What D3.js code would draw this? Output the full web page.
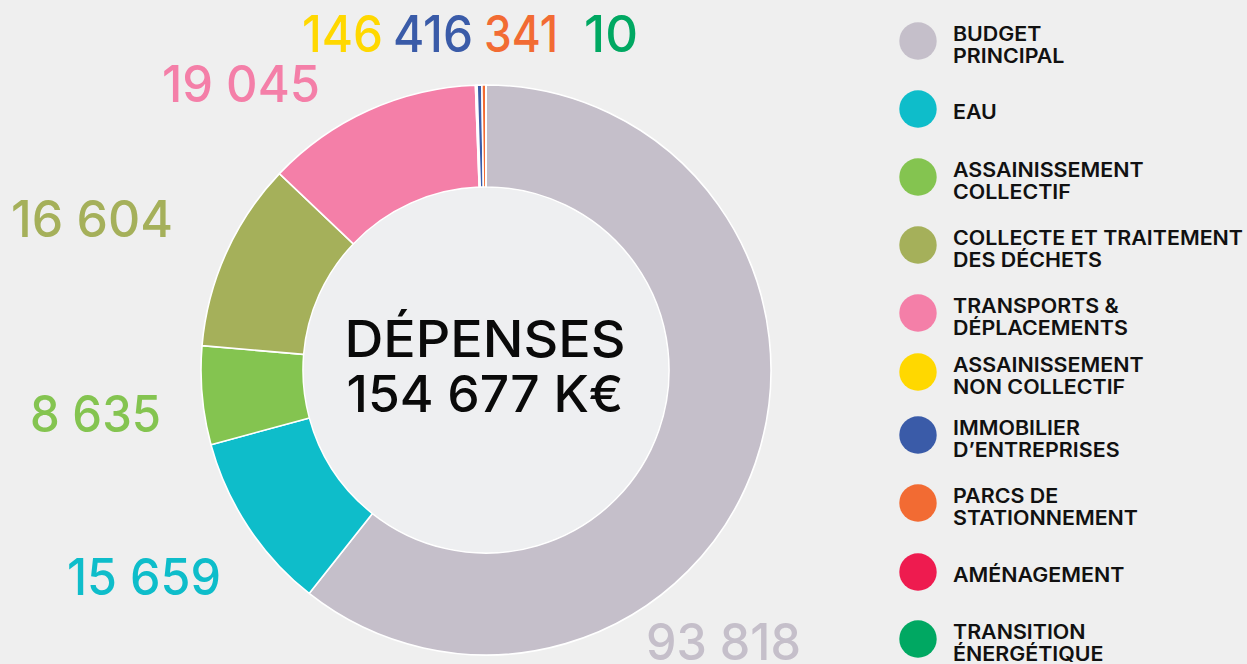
<!DOCTYPE html>
<html lang="fr">
<head>
<meta charset="utf-8">
<script src="https://cdn.jsdelivr.net/npm/d3@7"></script>
<style>
  html, body { margin: 0; padding: 0; background: #efefef; }
  svg { display: block; }
  text { font-family: Inter, "Noto Sans", sans-serif; }
</style>
</head>
<body>
<svg id="chart" width="1247" height="664"></svg>
<script>
// Dépenses par budget (K€)
const categories = [
  "BUDGET\nPRINCIPAL",
  "EAU",
  "ASSAINISSEMENT\nCOLLECTIF",
  "COLLECTE ET TRAITEMENT\nDES DÉCHETS",
  "TRANSPORTS &\nDÉPLACEMENTS",
  "ASSAINISSEMENT\nNON COLLECTIF",
  "IMMOBILIER\nD’ENTREPRISES",
  "PARCS DE\nSTATIONNEMENT",
  "AMÉNAGEMENT",
  "TRANSITION\nÉNERGÉTIQUE"
];
const values = [93818, 15659, 8635, 16604, 19045, 146, 416, 341, 3, 10];
const colors = ["#c5bfca", "#0ebdca", "#84c450", "#a5b05a", "#f47fa8",
                "#ffd800", "#3a5ba8", "#f26b33", "#ee1b4f", "#00a862"];
const showLabel = [true, true, true, true, true, true, true, true, false, true];
const totalTitle = "DÉPENSES";
const unit = "K€";

// Placement of the value labels: [left x, baseline, ink width]
const labelLayout = [
  [646, 660, 155], [67, 595, 154], [30, 432, 131], [11, 237, 162], [162, 102, 158],
  [302, 52, 81], [393, 52, 80], [484, 52, 74], null, [584, 52, 54]
];
// Vertical centres of the legend dots
const legendY = [41, 109, 177, 245, 313, 372, 435, 503, 572, 639];

const W = 1247, H = 664;
const cx = 486, cy = 370, outerR = 285, innerR = 183;

const fr = d3.formatLocale({decimal: ",", thousands: "\u202F", grouping: [3], currency: ["", " €"]});
const fmt = v => fr.format(",")(v).replace(/\u202F/g, " ");

const svg = d3.select("#chart");

const pie = d3.pie().sort(null).value(d => d.value);
const arc = d3.arc().innerRadius(innerR).outerRadius(outerR);
const rows = values.map((v, i) => ({name: categories[i], value: v, color: colors[i], i}));

const g = svg.append("g").attr("transform", `translate(${cx},${cy})`);
g.selectAll("path.slice")
  .data(pie(rows))
  .join("path")
  .attr("class", "slice")
  .attr("d", arc)
  .attr("fill", d => d.data.color)
  .attr("stroke", "#ffffff")
  .attr("stroke-width", 1.6)
  .attr("stroke-linejoin", "round");

g.append("circle").attr("r", innerR - 0.8).attr("fill", "#eeeff1");

// Centre total
const total = d3.sum(values);
const centre = [[totalTitle, 357, 281], [`${fmt(total)} ${unit}`, 412, 277]];
centre.forEach(([t, y, w]) => {
  svg.append("text")
    .attr("x", cx - 1).attr("y", y)
    .attr("text-anchor", "middle")
    .attr("font-size", 51)
    .attr("font-weight", 500)
    .attr("fill", "#0a0a0a")
    .attr("textLength", w)
    .attr("lengthAdjust", "spacingAndGlyphs")
    .text(t);
});

// Value labels
rows.forEach((r, i) => {
  if (!showLabel[i] || !labelLayout[i]) return;
  const [x, y, w] = labelLayout[i];
  svg.append("text")
    .attr("x", x).attr("y", y)
    .attr("font-size", 51)
    .attr("font-weight", 500)
    .attr("fill", r.color)
    .attr("textLength", w)
    .attr("lengthAdjust", "spacingAndGlyphs")
    .text(fmt(r.value));
});

// Legend
const legend = svg.append("g");
const legendX = 918, legendTextX = 953;
const probe = legend.append("text").attr("font-size", 19.5).attr("font-weight", 600)
  .text("COLLECTE ET TRAITEMENT");
const stretch = 290 / probe.node().getComputedTextLength();
probe.remove();

rows.forEach((r, i) => {
  const yC = legendY[i];
  legend.append("circle")
    .attr("cx", legendX).attr("cy", yC).attr("r", 18.7)
    .attr("fill", r.color);
  const lines = r.name.split("\n");
  const base = lines.length === 1 ? yC + 10 : yC;
  lines.forEach((ln, k) => {
    const t = legend.append("text")
      .attr("x", legendTextX).attr("y", base + k * 21.5)
      .attr("font-size", 19.5)
      .attr("font-weight", 600)
      .attr("fill", "#111111")
      .text(ln);
    const w = t.node().getComputedTextLength();
    t.attr("textLength", w * stretch).attr("lengthAdjust", "spacingAndGlyphs");
  });
});
</script>
</body>
</html>
